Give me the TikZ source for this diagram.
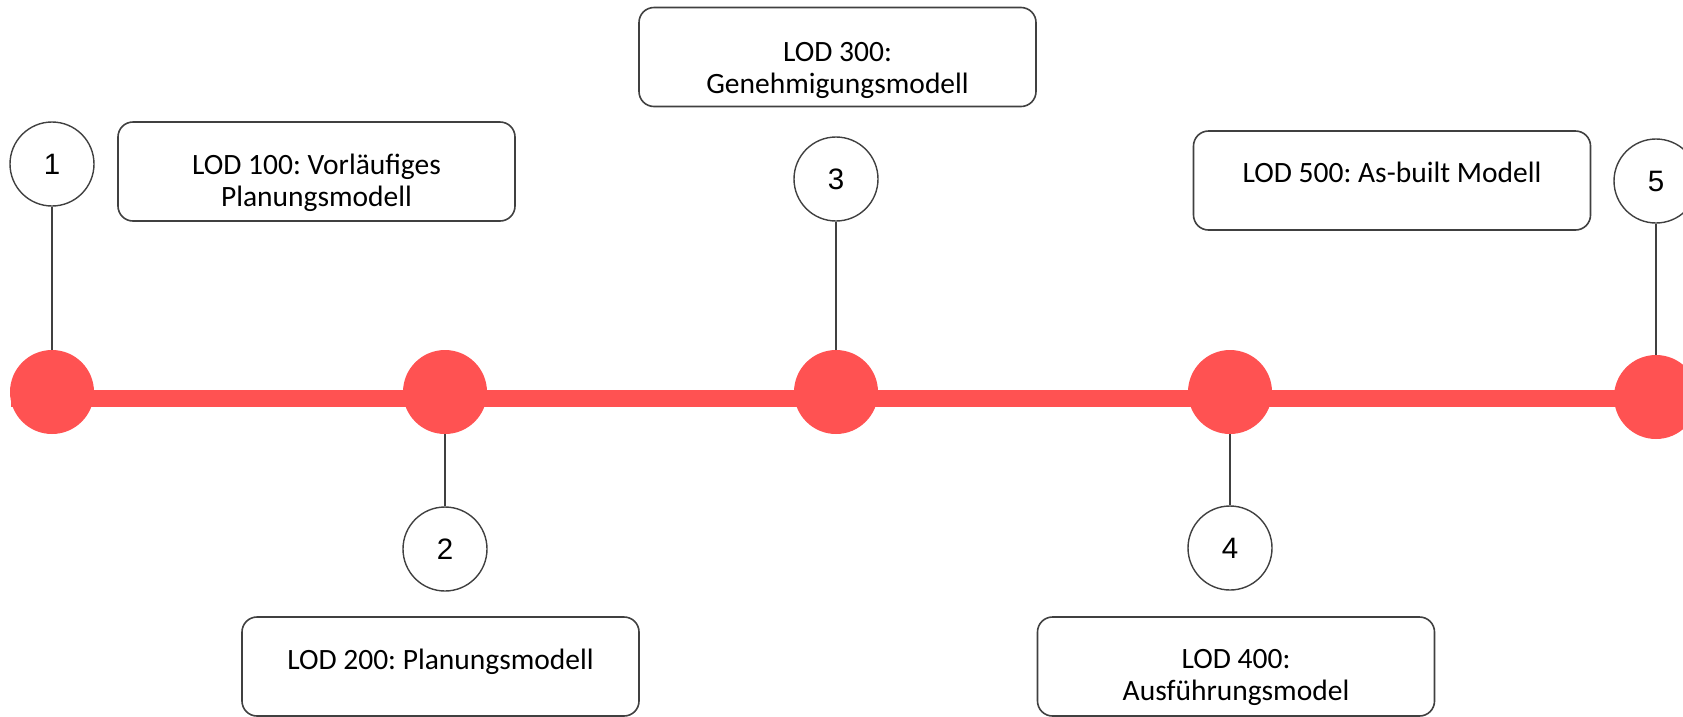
\documentclass[tikz,border=0pt]{standalone}
\usepackage{fontspec}
\setmainfont{Carlito}
\newfontfamily\numfont{Liberation Sans}
\usetikzlibrary{positioning}
\frenchspacing
\definecolor{lodred}{RGB}{255,82,82}
\colorlet{frame}{black!75}
\tikzset{
  milestone/.style={circle,fill=lodred,minimum size=84pt,inner sep=0pt},
  stepnum/.style={circle,draw=frame,line width=1.4pt,fill=white,
    minimum size=84pt,inner sep=0pt,font=\numfont\fontsize{29.5}{29.5}\selectfont},
  lodbox/.style={draw=frame,line width=1.6pt,rounded corners=15pt,
    minimum width=397pt,minimum height=99pt,inner sep=0pt},
  lodtext/.style={inner sep=0pt,align=center,
    font=\fontsize{29.5}{32}\selectfont},
  stem/.style={draw=frame,line width=1.6pt},
}

\begin{document}
\begin{tikzpicture}[x=1pt,y=-1pt]
\useasboundingbox (0,0) rectangle (1683,716);
\clip (0,0) rectangle (1683,716);
% the bar
\coordinate (start) at (11,398);
\coordinate (end) at (1683,398);
\draw[lodred,line width=17pt] (start) -- (end);
\foreach \i/\px/\py in {1/52/392,2/445/392,3/836/392,4/1230/392,5/1656/397}
  \node[milestone] (dot\i) at (\px,\py) {};
% numbers above and below the bar
\node[stepnum] (num1) at (52,164) {1};
\node[stepnum] (num2) at (445,549) {2};
\node[stepnum] (num3) at (836,179) {3};
\node[stepnum] (num4) at (1230,548) {4};
\node[stepnum] (num5) at (1656,181) {5};
\foreach \i in {1,...,5}
  \draw[stem] (num\i) -- (dot\i);
% LOD boxes
\node[lodbox] (lod100) at (316.5,171.5) {};
\node[lodbox] (lod200) at (440.5,666.5) {};
\node[lodbox] (lod300) at (837.5,57) {};
\node[lodbox] (lod400) at (1236,666.5) {};
\node[lodbox] (lod500) at (1392,180.5) {};
\node[lodtext,below=33pt of lod100.north] (lod100txt) {LOD 100: Vorläufiges\\Planungsmodell};
\node[lodtext,below=33pt of lod200.north] (lod200txt) {LOD 200: Planungsmodell};
\node[lodtext,below=35pt of lod300.north] (lod300txt) {LOD 300:\\Genehmigungsmodell};
\node[lodtext,below=33pt of lod400.north] (lod400txt) {LOD 400:\\Ausführungsmodel};
\node[lodtext,below=32pt of lod500.north] (lod500txt) {LOD 500: As-built Modell};
\end{tikzpicture}
\end{document}
